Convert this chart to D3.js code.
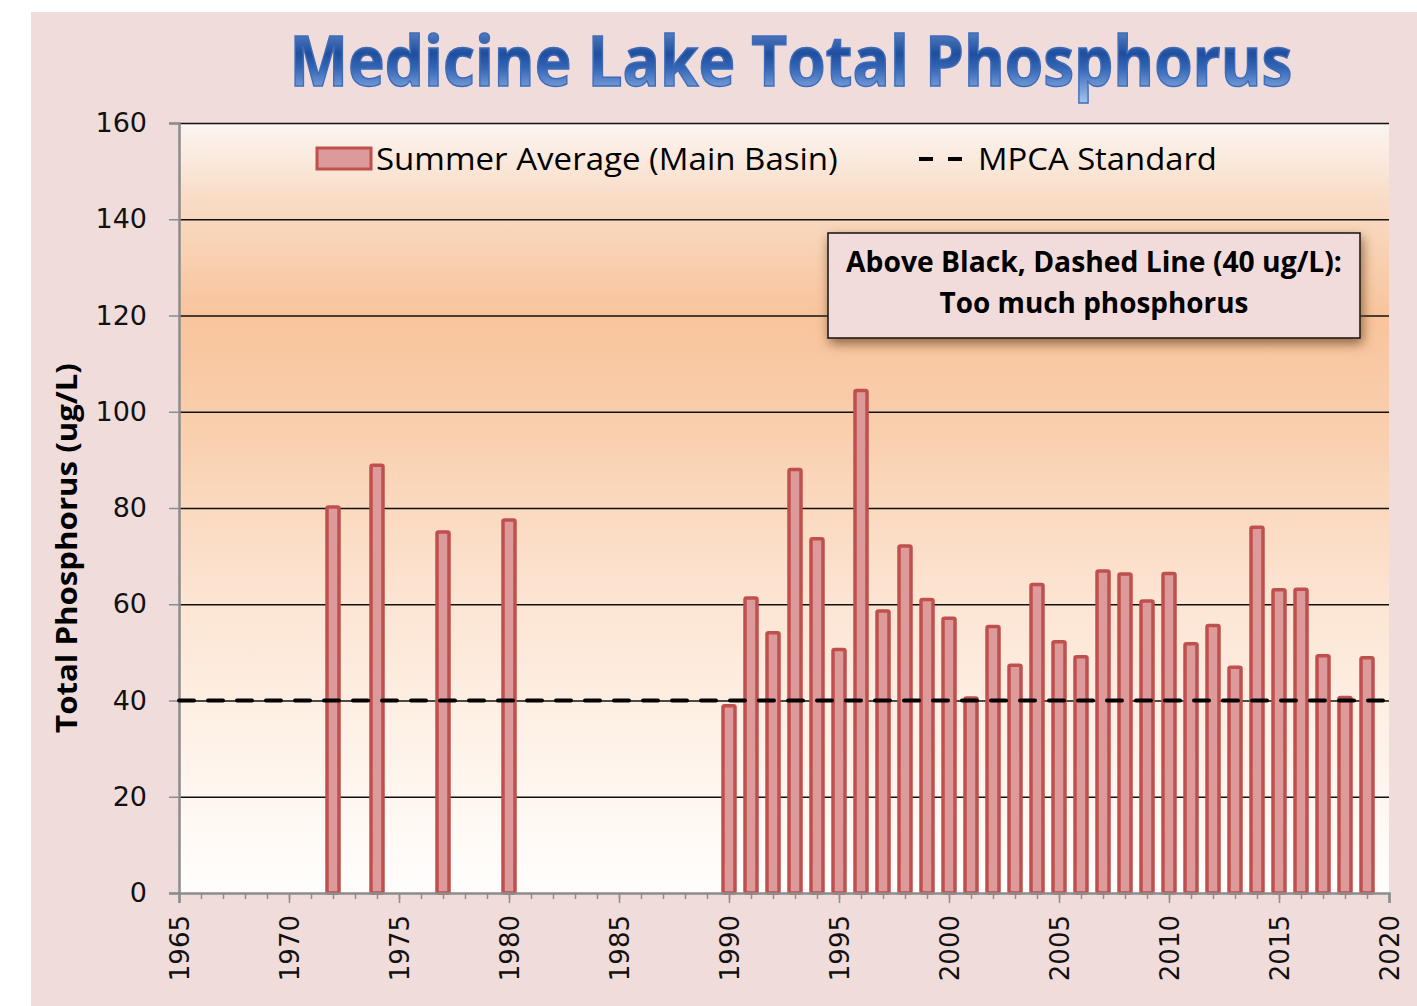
<!DOCTYPE html>
<html>
<head>
<meta charset="utf-8">
<script src="https://cdn.jsdelivr.net/npm/d3@7"></script>
<style>
  body { margin: 0; background: #ffffff; }
  svg { display: block; }
</style>
</head>
<body>
<div id="chart"></div>
<script>
// data
const years = [1972, 1974, 1977, 1980, 1990, 1991, 1992, 1993, 1994, 1995, 1996, 1997, 1998, 1999,
               2000, 2001, 2002, 2003, 2004, 2005, 2006, 2007, 2008, 2009, 2010, 2011, 2012, 2013,
               2014, 2015, 2016, 2017, 2018, 2019];
const values = [80.2, 88.9, 75, 77.5, 38.9, 61.3, 54.1, 88, 73.6, 50.6, 104.4, 58.6, 72.1, 61,
                57.1, 40.5, 55.4, 47.3, 64.1, 52.2, 49.1, 66.9, 66.3, 60.7, 66.4, 51.8, 55.6, 46.9,
                76, 63, 63.1, 49.3, 40.6, 48.9];
const yTicks = [0, 20, 40, 60, 80, 100, 120, 140, 160];
const xTicks = [1965, 1970, 1975, 1980, 1985, 1990, 1995, 2000, 2005, 2010, 2015, 2020];
const standard = 40;
const titleText = "Medicine Lake Total Phosphorus";
const yLabel = "Total Phosphorus (ug/L)";
const legendBars = "Summer Average (Main Basin)";
const legendLine = "MPCA Standard";
const noteLines = ["Above Black, Dashed Line (40 ug/L):", "Too much phosphorus"];

const W = 1417, H = 1006;
const margin = {top: 123, right: 28, bottom: 113, left: 179};
const width = W - margin.left - margin.right,
      height = H - margin.top - margin.bottom;

const svg = d3.select("#chart").append("svg")
    .attr("width", W)
    .attr("height", H);

const defs = svg.append("defs");

// plot background gradient
const bg = defs.append("linearGradient").attr("id", "plotBg")
    .attr("x1", 0).attr("y1", 0).attr("x2", 0).attr("y2", 1);
[[0, "#fbf5f2"], [0.1, "#f9dcc6"], [0.25, "#f8c49c"], [0.4, "#f9cfae"], [0.6, "#fce3d0"],
 [0.8, "#fef2e8"], [1, "#fffefd"]].forEach(s => bg.append("stop").attr("offset", s[0]).attr("stop-color", s[1]));

// title gradient
const tg = defs.append("linearGradient").attr("id", "titleGrad")
    .attr("x1", 0).attr("y1", 0).attr("x2", 0).attr("y2", 1);
[[0, "#86aae2"], [0.45, "#1f4e9e"], [0.6, "#3466b6"], [1, "#b0cdf5"]]
    .forEach(s => tg.append("stop").attr("offset", s[0]).attr("stop-color", s[1]));

const shadow = defs.append("filter").attr("id", "boxShadow")
    .attr("x", "-10%").attr("y", "-30%").attr("width", "120%").attr("height", "170%");
shadow.append("feDropShadow").attr("dx", 2).attr("dy", 5).attr("stdDeviation", 6)
    .attr("flood-color", "#6b4520").attr("flood-opacity", 0.75);

// outer pink panel
svg.append("rect").attr("x", 31).attr("y", 12).attr("width", W - 31).attr("height", H - 12)
    .attr("fill", "#f0dcdb");

const g = svg.append("g").attr("transform", `translate(${margin.left},${margin.top})`);

g.append("rect").attr("width", width).attr("height", height).attr("fill", "url(#plotBg)");

const x = d3.scaleLinear().domain([1965, 2020]).range([0, width]);
const y = d3.scaleLinear().domain([0, 160]).range([height, 0]);

// gridlines
g.append("g")
    .call(d3.axisLeft(y).tickValues(yTicks.slice(1)).tickSize(-width).tickFormat(""))
    .call(a => a.select(".domain").remove())
    .selectAll("line").attr("stroke", "#111").attr("stroke-width", 1.6);

// y axis
g.append("g")
    .call(d3.axisLeft(y).tickValues(yTicks).tickSize(10).tickPadding(22))
    .call(a => a.select(".domain").attr("stroke", "#8c8c8c").attr("stroke-width", 2.5))
    .call(a => a.selectAll("line").attr("stroke", "#8c8c8c").attr("stroke-width", 1.5))
    .call(a => a.selectAll("text").attr("font-family", "DejaVu Sans").attr("font-size", 27)
        .attr("fill", "#111"));

// bars
const barW = 12;
g.append("g").selectAll("rect")
    .data(years)
    .join("rect")
    .attr("x", (d) => x(d) - barW / 2)
    .attr("y", (d, i) => y(values[i]))
    .attr("width", barW)
    .attr("height", (d, i) => height - y(values[i]))
    .attr("rx", 1.5)
    .attr("fill", "#dc9a9a")
    .attr("stroke", "#c0504d")
    .attr("stroke-width", 3.5);

// MPCA standard line
g.append("line")
    .attr("x1", 0).attr("x2", width)
    .attr("y1", y(standard)).attr("y2", y(standard))
    .attr("stroke", "#000").attr("stroke-width", 4)
    .attr("stroke-dasharray", "15,14")
    .attr("stroke-linecap", "round");

// x axis: minor + major ticks
const minor = d3.range(1965, 2021);
g.append("g").attr("transform", `translate(0,${height})`)
    .call(d3.axisBottom(x).tickValues(minor).tickSize(6).tickFormat(""))
    .call(a => a.select(".domain").remove())
    .selectAll("line").attr("stroke", "#8c8c8c").attr("stroke-width", 1.5);

g.append("g").attr("transform", `translate(0,${height})`)
    .call(d3.axisBottom(x).tickValues(xTicks).tickSize(10).tickFormat(d3.format("d")))
    .call(a => a.select(".domain").attr("stroke", "#8c8c8c").attr("stroke-width", 2.5))
    .call(a => a.selectAll("line").attr("stroke", "#8c8c8c").attr("stroke-width", 1.5))
    .call(a => a.selectAll("text")
        .attr("font-family", "DejaVu Sans").attr("font-size", 26).attr("fill", "#111")
        .attr("transform", "rotate(-90)")
        .attr("text-anchor", "end")
        .attr("x", -22).attr("y", 0).attr("dy", "0.36em"));

// text squeezed to a target width via a horizontal scale
function fitText(sel, target) {
    const w = sel.node().getComputedTextLength();
    const cx = +sel.attr("x"), cy = +sel.attr("y");
    sel.attr("transform", `translate(${cx},${cy}) scale(${target / w},1) translate(${-cx},${-cy})`);
}

// y axis title
const yt = svg.append("text")
    .attr("x", 0).attr("y", 0)
    .attr("text-anchor", "middle")
    .attr("font-family", "Open Sans, sans-serif")
    .attr("font-weight", "bold")
    .attr("font-size", 29)
    .text(yLabel);
const ytw = yt.node().getComputedTextLength();
yt.attr("transform", `translate(77,548) rotate(-90) scale(${370 / ytw},1)`);

// title
const title = svg.append("text")
    .attr("x", 791).attr("y", 86)
    .attr("text-anchor", "middle")
    .attr("font-family", "Open Sans, sans-serif")
    .attr("font-weight", "bold")
    .attr("font-size", 70)
    .attr("fill", "url(#titleGrad)")
    .attr("stroke", "#3f6cb8").attr("stroke-width", 1.5)
    .text(titleText);
fitText(title, 1003);

// legend
const leg = svg.append("g");
leg.append("rect").attr("x", 317).attr("y", 148).attr("width", 54).attr("height", 21)
    .attr("fill", "#dc9a9a").attr("stroke", "#c0504d").attr("stroke-width", 3);
const l1 = leg.append("text").attr("x", 376).attr("y", 170)
    .attr("font-family", "Open Sans, sans-serif").attr("font-size", 31)
    .text(legendBars);
fitText(l1, 462);
leg.append("line").attr("x1", 919).attr("x2", 962).attr("y1", 159).attr("y2", 159)
    .attr("stroke", "#000").attr("stroke-width", 4).attr("stroke-dasharray", "14,15");
const l2 = leg.append("text").attr("x", 978).attr("y", 170)
    .attr("font-family", "Open Sans, sans-serif").attr("font-size", 31)
    .text(legendLine);
fitText(l2, 239);

// annotation box
const note = svg.append("g");
note.append("rect").attr("x", 828).attr("y", 233).attr("width", 532).attr("height", 105)
    .attr("fill", "#f2dcdb").attr("stroke", "#111").attr("stroke-width", 1.5)
    .attr("filter", "url(#boxShadow)");
const noteLen = [496, 309];
note.selectAll("text").data(noteLines).join("text")
    .attr("x", 1094)
    .attr("y", (d, i) => 272 + i * 41)
    .attr("text-anchor", "middle")
    .attr("font-family", "Open Sans, sans-serif")
    .attr("font-weight", "bold")
    .attr("font-size", 28)
    .text(d => d)
    .each(function(d, i) { fitText(d3.select(this), noteLen[i]); });
</script>
</body>
</html>
